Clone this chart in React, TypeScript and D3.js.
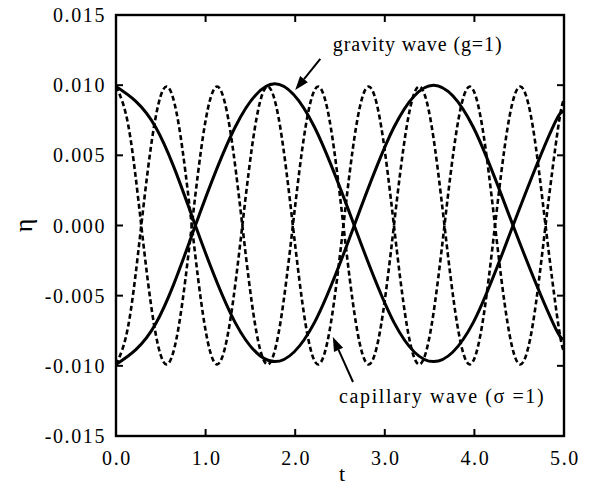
import * as d3 from "d3";

// gravity wave (g=1), two phases, read at ~1/8 period steps
const gravityT = [0, 0.443, 0.886, 1.329, 1.772, 2.216, 2.659, 3.102, 3.545, 3.988, 4.431, 4.874, 5.0];
const gravityA = [0.0099, 0.007, 0.0, -0.0069, -0.0097, -0.0069, 0.0, 0.007, 0.01, 0.007, 0.0, -0.0069, -0.008];
const gravityB = [-0.0099, -0.007, 0.0, 0.007, 0.0101, 0.007, 0.0, -0.0069, -0.0097, -0.0069, 0.0, 0.007, 0.008];

// capillary wave (sigma=1), two phases
const capillaryT = [
  0, 0.141, 0.282, 0.423, 0.564, 0.705, 0.846, 0.987,
  1.128, 1.269, 1.41, 1.551, 1.692, 1.833, 1.974, 2.115,
  2.256, 2.397, 2.538, 2.679, 2.82, 2.961, 3.102, 3.243,
  3.384, 3.525, 3.666, 3.807, 3.948, 4.089, 4.23, 4.371,
  4.512, 4.653, 4.794, 4.935, 5.0,
];
const capillaryA = [
  0.0099, 0.007, 0, -0.007, -0.0099, -0.007, 0, 0.007,
  0.0099, 0.007, 0, -0.007, -0.0099, -0.007, 0, 0.007,
  0.0099, 0.007, 0, -0.007, -0.0099, -0.007, 0, 0.007,
  0.0099, 0.007, 0, -0.007, -0.0099, -0.007, 0, 0.007,
  0.0099, 0.007, 0, -0.007, -0.009,
];
const capillaryB = [
  -0.0099, -0.007, 0, 0.007, 0.0099, 0.007, 0, -0.007,
  -0.0099, -0.007, 0, 0.007, 0.0099, 0.007, 0, -0.007,
  -0.0099, -0.007, 0, 0.007, 0.0099, 0.007, 0, -0.007,
  -0.0099, -0.007, 0, 0.007, 0.0099, 0.007, 0, -0.007,
  -0.0099, -0.007, 0, 0.007, 0.009,
];

const xTicks = [0, 1, 2, 3, 4, 5];
const yTicks = [0.015, 0.01, 0.005, 0, -0.005, -0.01, -0.015];

const W = 592;
const H = 489;
const margin = { top: 15, right: 28, bottom: 53, left: 116 };
const font = "'Liberation Serif', 'Times New Roman', serif";

export default function App() {
  const x = d3.scaleLinear().domain([0, 5]).range([margin.left, W - margin.right]);
  const y = d3.scaleLinear().domain([-0.015, 0.015]).range([H - margin.bottom, margin.top]);

  const line = (ts: number[], vs: number[]) =>
    d3
      .line<number>()
      .x((_, i) => x(ts[i]))
      .y((v) => y(v))
      .curve(d3.curveNatural)(vs) || "";

  const x0 = x(0), x1 = x(5), y0 = y(-0.015), y1 = y(0.015);
  const tick = 7;

  // arrow helper: tail -> tip, filled head
  const arrow = (tx: number, ty: number, hx: number, hy: number) => {
    const ang = Math.atan2(hy - ty, hx - tx);
    const len = 14, half = 5;
    const bx = hx - len * Math.cos(ang), by = hy - len * Math.sin(ang);
    const px = -Math.sin(ang) * half, py = Math.cos(ang) * half;
    return (
      <g>
        <line x1={tx} y1={ty} x2={bx} y2={by} stroke="#000" strokeWidth={2} />
        <polygon points={`${hx},${hy} ${bx + px},${by + py} ${bx - px},${by - py}`} fill="#000" />
      </g>
    );
  };

  return (
    <svg
      width={W}
      height={H}
      style={{ position: "absolute", left: 0, top: 0, background: "#fff" }}
      fontFamily={font}
    >
      <defs>
        <clipPath id="plot">
          <rect x={x0} y={y1} width={x1 - x0} height={y0 - y1} />
        </clipPath>
      </defs>

      <g clipPath="url(#plot)" fill="none" stroke="#000">
        <path d={line(capillaryT, capillaryA)} strokeWidth={2.6} strokeDasharray="5,3" />
        <path d={line(capillaryT, capillaryB)} strokeWidth={2.6} strokeDasharray="5,3" />
        <path d={line(gravityT, gravityA)} strokeWidth={3} />
        <path d={line(gravityT, gravityB)} strokeWidth={3} />
      </g>

      {/* frame */}
      <rect x={x0} y={y1} width={x1 - x0} height={y0 - y1} fill="none" stroke="#000" strokeWidth={2.4} />

      {/* x ticks */}
      {xTicks.map((t) => (
        <g key={"x" + t}>
          {t > 0 && t < 5 && (
            <>
              <line x1={x(t)} x2={x(t)} y1={y0} y2={y0 - tick} stroke="#000" strokeWidth={2} />
              <line x1={x(t)} x2={x(t)} y1={y1} y2={y1 + tick} stroke="#000" strokeWidth={2} />
            </>
          )}
          <text x={x(t) + 1} y={465} textAnchor="middle" fontSize={20} letterSpacing={1.6}>
            {t.toFixed(1)}
          </text>
        </g>
      ))}

      {/* y ticks */}
      {yTicks.map((v) => (
        <g key={"y" + v}>
          {Math.abs(v) < 0.0149 && (
            <>
              <line x1={x0} x2={x0 + tick} y1={y(v)} y2={y(v)} stroke="#000" strokeWidth={2} />
              <line x1={x1} x2={x1 - tick} y1={y(v)} y2={y(v)} stroke="#000" strokeWidth={2} />
            </>
          )}
          <text x={106} y={y(v)} dy="0.35em" textAnchor="end" fontSize={20} letterSpacing={1.6}>
            {v.toFixed(3)}
          </text>
        </g>
      ))}

      {/* axis titles */}
      <text x={342} y={481} textAnchor="middle" fontSize={22}>
        t
      </text>
      <text
        transform={`translate(24,${y(0)}) rotate(-90)`}
        textAnchor="middle"
        dy="0.3em"
        fontSize={26}
      >
        η
      </text>

      {/* annotations */}
      {arrow(x(2.28), y(0.01187), x(2.0), y(0.00966))}
      <text x={x(2.42)} y={y(0.0124)} fontSize={20} letterSpacing={0.9}>
        gravity wave (g=1)
      </text>
      {arrow(x(2.645), y(-0.01115), x(2.42), y(-0.00795))}
      <text x={x(2.49)} y={y(-0.01265)} fontSize={20} letterSpacing={1.6}>
        capillary wave (σ =1)
      </text>
    </svg>
  );
}
